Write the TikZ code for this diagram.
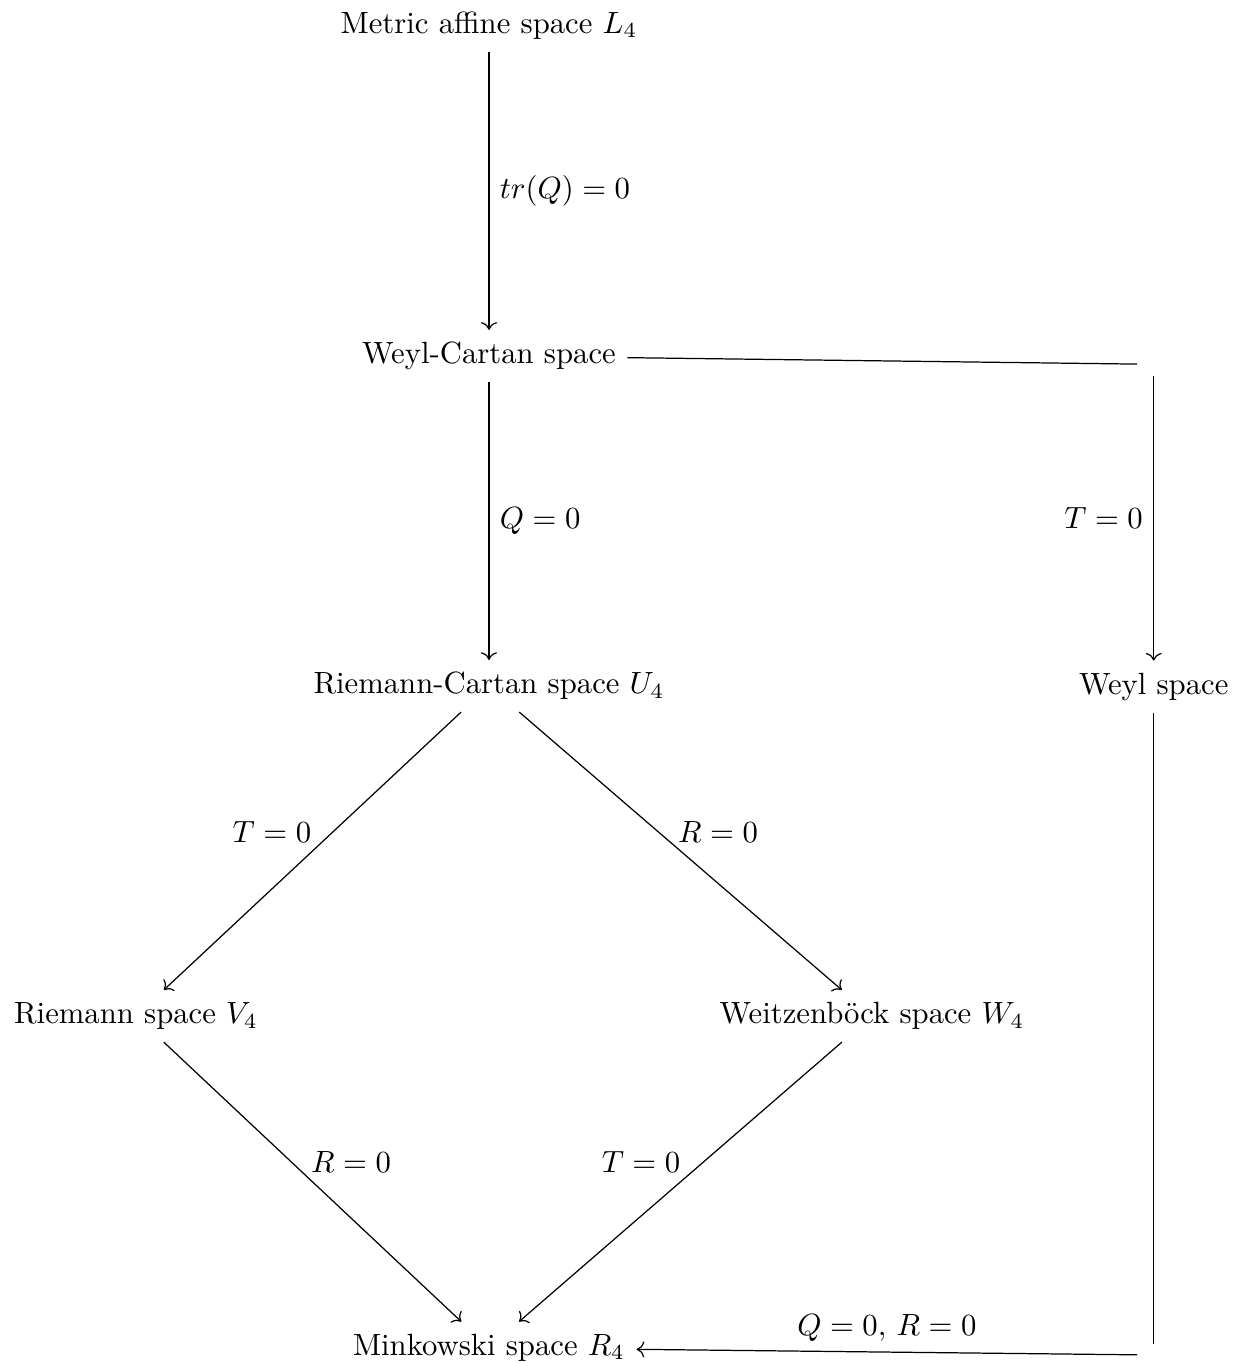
\documentclass[tikz,border=0pt]{standalone}
\usetikzlibrary{arrows.meta}
\begin{document}
\begin{tikzpicture}[x=0.3257pt,y=-0.3257pt,
  space/.style={inner sep=3.6pt, minimum height=16.6pt},
  corner/.style={inner sep=0pt, minimum width=10.4pt, minimum height=7.1pt},
  arr/.style={->},
  lbl/.style={inner sep=3.33pt}]
\useasboundingbox (0,0) rectangle (1246,1363);
\node[space] (L4) at (489,25.5) {Metric affine space $L_4$};
\node[space] (WC) at (489,355.9) {Weyl-Cartan space};
\node[space] (U4) at (489,686) {Riemann-Cartan space $U_4$};
\node[space] (WS) at (1153.7,686.7) {Weyl space};
\node[space] (V4) at (136,1016) {Riemann space $V_4$};
\node[space] (W4) at (872,1016) {Weitzenb\"ock space $W_4$};
\node[space] (R4) at (489,1347.7) {Minkowski space $R_4$};
\node[corner] (c1) at (1153.7,364.3) {};
\node[corner] (c2) at (1153.7,1355) {};
\draw[arr] (L4) -- node[lbl,right] {$tr(Q)=0$} (WC);
\draw[arr] (WC) -- node[lbl,right] {$Q=0$} (U4);
\draw (WC) -- (c1);
\draw[arr] (c1) -- node[lbl,left] {$T=0$} (WS);
\draw[arr] (U4) -- node[lbl,midway,xshift=-40.5*0.3257pt,yshift=19*0.3257pt] {$T=0$} (V4);
\draw[arr] (U4) -- node[lbl,midway,xshift=37.5*0.3257pt,yshift=19*0.3257pt] {$R=0$} (W4);
\draw[arr] (V4) -- node[lbl,midway,xshift=38.5*0.3257pt,yshift=20*0.3257pt] {$R=0$} (R4);
\draw[arr] (W4) -- node[lbl,midway,xshift=-39.5*0.3257pt,yshift=20*0.3257pt] {$T=0$} (R4);
\draw (WS) -- (c2);
\draw[arr] (c2) -- node[lbl,above] {$Q=0,\,R=0$} (R4);
\end{tikzpicture}
\end{document}
